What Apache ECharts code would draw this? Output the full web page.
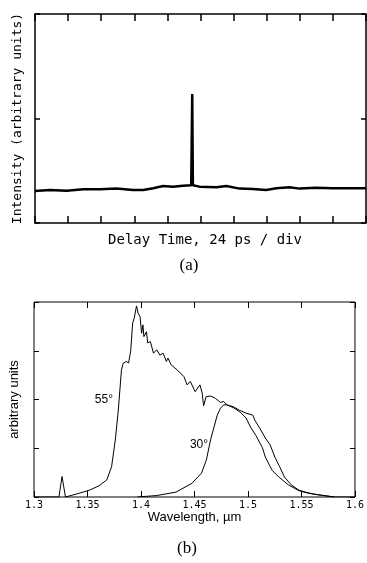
<!DOCTYPE html>
<html>
<head>
<meta charset="utf-8">
<script src="https://cdn.jsdelivr.net/npm/echarts@6/dist/echarts.min.js"></script>
<style>
	body { margin: 0; background: #fff; }
	#main { width: 367px; height: 563px; }
</style>
</head>
<body>
<div id="main"></div>
<script>
// (a) 延迟时间 (div) 与强度
var delayDiv = [0, 0.45, 0.95, 1.46, 1.96, 2.46, 2.96, 3.27, 3.57, 3.87, 4.17, 4.47, 4.72, 4.75, 4.75, 4.77, 4.77, 4.80, 4.97, 5.48, 5.78, 6.18, 6.58, 6.98, 7.29, 7.69, 7.99, 8.49, 8.99, 9.50, 10];
var delayInt = [0.306, 0.316, 0.309, 0.322, 0.322, 0.329, 0.316, 0.316, 0.332, 0.354, 0.348, 0.357, 0.362, 0.364, 1.234, 1.234, 0.362, 0.360, 0.348, 0.342, 0.354, 0.329, 0.325, 0.316, 0.332, 0.342, 0.329, 0.338, 0.332, 0.332, 0.332];

// (b) 波长 (um) 与光谱, 55° 和 30°
var wl55 = [1.300, 1.3233, 1.3262, 1.3294, 1.3310, 1.3428, 1.3518, 1.3608, 1.3680, 1.3725, 1.3760, 1.3788, 1.3817, 1.3833, 1.3862, 1.3884, 1.3904, 1.3922, 1.3937, 1.3958, 1.3973, 1.3991, 1.4006, 1.4018, 1.4027, 1.4051, 1.4063, 1.4087, 1.4117, 1.4147, 1.4177, 1.4207, 1.4237, 1.4252, 1.4282, 1.4342, 1.4401, 1.4431, 1.4461, 1.4506, 1.4551, 1.4572, 1.4585, 1.4609, 1.4653, 1.4698, 1.4743, 1.4773, 1.4803, 1.4865, 1.4920, 1.4982, 1.5045, 1.5063, 1.5108, 1.5162, 1.5207, 1.5251, 1.5296, 1.5341, 1.5404, 1.5476, 1.5539, 1.5611, 1.5674, 1.5808, 1.600];
var int55 = [0, 0, 0.42, 0, 0.02, 0.08, 0.14, 0.23, 0.35, 0.62, 1.17, 1.78, 2.60, 2.74, 2.78, 2.75, 3.00, 3.57, 3.67, 3.92, 3.77, 3.70, 3.36, 3.53, 3.29, 3.39, 3.16, 3.19, 2.95, 3.02, 2.91, 2.95, 2.78, 2.85, 2.71, 2.60, 2.47, 2.30, 2.37, 2.16, 2.30, 2.13, 1.87, 2.06, 2.07, 2.02, 1.94, 1.96, 1.89, 1.85, 1.78, 1.72, 1.68, 1.58, 1.42, 1.21, 1.07, 0.82, 0.62, 0.41, 0.25, 0.14, 0.10, 0.06, 0.04, 0, 0];

var wl30 = [1.3966, 1.4148, 1.4326, 1.4476, 1.4566, 1.4611, 1.4650, 1.4683, 1.4713, 1.4743, 1.4773, 1.4803, 1.4865, 1.4928, 1.4982, 1.5027, 1.5072, 1.5135, 1.5162, 1.5225, 1.5288, 1.5377, 1.5467, 1.5521, 1.5584, 1.5674, 1.5808];
var int30 = [0, 0.03, 0.10, 0.28, 0.49, 0.76, 1.17, 1.44, 1.68, 1.82, 1.89, 1.89, 1.83, 1.74, 1.62, 1.42, 1.27, 1.01, 0.82, 0.55, 0.41, 0.25, 0.14, 0.10, 0.07, 0.04, 0];

var wlTicks = ['1.3', '1.35', '1.4', '1.45', '1.5', '1.55', '1.6'];

// 曲线标注的位置 (数据坐标)
var label55 = [1.3653, 1.99];
var label30 = [1.4542, 1.07];

function zip(xs, ys) {
	var out = [];
	for (var i = 0; i < xs.length; i++) {
		out.push([xs[i], ys[i]]);
	}
	return out;
}

var mono = 'DejaVu Sans Mono';
var sans = 'Liberation Sans';

// 刻度朝内; onZero 关掉, 否则 top/right 轴会被挪到 0 的位置
var noLine = { show: false, onZero: false };

function frameTick(len, w) {
	return { show: true, inside: true, length: len, lineStyle: { color: '#000', width: w } };
}

function curveLabel(pos, text) {
	return {
		symbol: 'circle',
		symbolSize: 1,
		itemStyle: { color: 'rgba(0,0,0,0)' },
		label: { show: true, position: 'inside', formatter: text, color: '#000', fontFamily: sans, fontSize: 12 },
		data: [{ coord: pos }]
	};
}

var chart = echarts.init(document.getElementById("main"));

option = {
	animation: false,
	backgroundColor: '#fff',
	grid: [
		{ left: 35, right: 1, top: 14, bottom: 340, show: true, borderColor: '#000', borderWidth: 1.5 },
		{ left: 32, right: 1, top: 302, bottom: 66, show: true, borderColor: '#000', borderWidth: 1 }
	],
	xAxis: [
		{
			gridIndex: 0, type: 'value', position: 'bottom', min: 0, max: 10, interval: 1,
			axisLine: noLine, axisTick: frameTick(7, 1.5), axisLabel: { show: false }, splitLine: { show: false },
			name: 'Delay Time, 24 ps / div', nameLocation: 'middle', nameGap: 10,
			nameTextStyle: { fontFamily: mono, fontSize: 14, color: '#000', padding: [0, 0, 0, 9] }
		},
		{
			gridIndex: 0, type: 'value', position: 'top', min: 0, max: 10, interval: 1,
			axisLine: noLine, axisTick: frameTick(7, 1.5), axisLabel: { show: false }, splitLine: { show: false }
		},
		{
			gridIndex: 1, type: 'value', position: 'bottom', min: 1.3, max: 1.6, interval: 0.05,
			axisLine: noLine, axisTick: frameTick(6, 1), splitLine: { show: false },
			axisLabel: {
				show: true, margin: 3, color: '#000', fontFamily: mono, fontSize: 10,
				alignMinLabel: 'center', alignMaxLabel: 'center',
				formatter: function (v) { return wlTicks[Math.round((v - 1.3) / 0.05)]; }
			},
			name: 'Wavelength, \u00b5m', nameLocation: 'middle', nameGap: 13,
			nameTextStyle: { fontFamily: sans, fontSize: 13, color: '#000' }
		},
		{
			gridIndex: 1, type: 'value', position: 'top', min: 1.3, max: 1.6, interval: 0.05,
			axisLine: noLine, axisTick: frameTick(6, 1), axisLabel: { show: false }, splitLine: { show: false }
		}
	],
	yAxis: [
		{
			gridIndex: 0, type: 'value', position: 'left', min: 0, max: 2, interval: 1,
			axisLine: noLine, axisTick: frameTick(5, 1.5), axisLabel: { show: false }, splitLine: { show: false },
			name: 'Intensity (arbitrary units)', nameLocation: 'middle', nameGap: 11, nameRotate: 90,
			nameTextStyle: { fontFamily: mono, fontSize: 13, color: '#000' }
		},
		{
			gridIndex: 0, type: 'value', position: 'right', min: 0, max: 2, interval: 1,
			axisLine: noLine, axisTick: frameTick(5, 1.5), axisLabel: { show: false }, splitLine: { show: false }
		},
		{
			gridIndex: 1, type: 'value', position: 'left', min: 0, max: 4, interval: 1,
			axisLine: noLine, axisTick: frameTick(5, 1), axisLabel: { show: false }, splitLine: { show: false },
			name: 'arbitrary units', nameLocation: 'middle', nameGap: 13, nameRotate: 90,
			nameTextStyle: { fontFamily: sans, fontSize: 13, color: '#000' }
		},
		{
			gridIndex: 1, type: 'value', position: 'right', min: 0, max: 4, interval: 1,
			axisLine: noLine, axisTick: frameTick(5, 1), axisLabel: { show: false }, splitLine: { show: false }
		}
	],
	series: [
		{
			name: 'delay', type: 'line', xAxisIndex: 0, yAxisIndex: 0,
			data: zip(delayDiv, delayInt), showSymbol: false,
			lineStyle: { color: '#000', width: 2.5 }
		},
		{
			name: '55', type: 'line', xAxisIndex: 2, yAxisIndex: 2,
			data: zip(wl55, int55), showSymbol: false,
			lineStyle: { color: '#000', width: 1 },
			markPoint: curveLabel(label55, '55\u00b0')
		},
		{
			name: '30', type: 'line', xAxisIndex: 2, yAxisIndex: 2,
			data: zip(wl30, int30), showSymbol: false,
			lineStyle: { color: '#000', width: 1 },
			markPoint: curveLabel(label30, '30\u00b0')
		}
	],
	graphic: [
		{ type: 'text', x: 189, y: 266, style: { text: '(a)', fontFamily: 'Liberation Serif', fontSize: 17, fill: '#000', align: 'center', verticalAlign: 'middle' } },
		{ type: 'text', x: 187, y: 549, style: { text: '(b)', fontFamily: 'Liberation Serif', fontSize: 17, fill: '#000', align: 'center', verticalAlign: 'middle' } }
	]
};

chart.setOption(option);
</script>
</body>
</html>
